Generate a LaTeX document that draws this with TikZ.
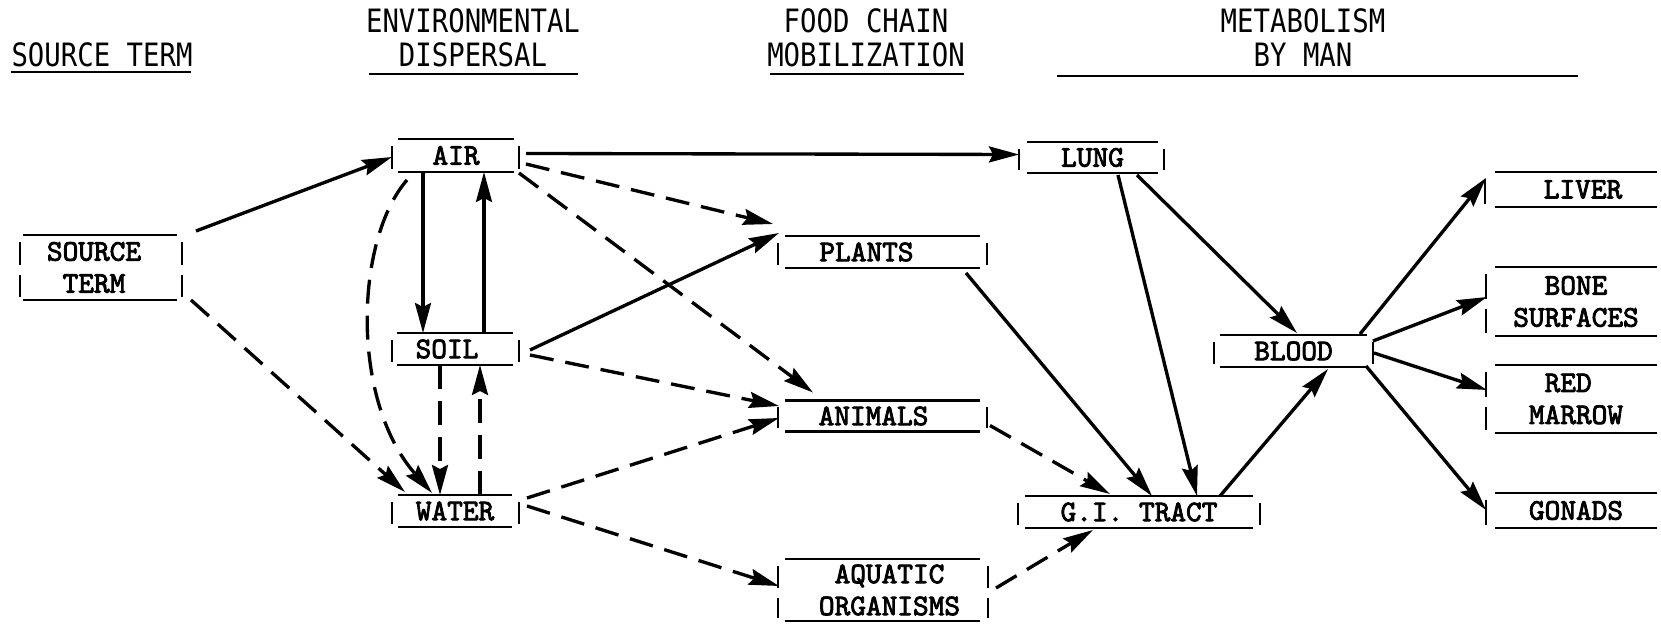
\documentclass[tikz,border=0pt]{standalone}
\usepackage{fontspec}
\usetikzlibrary{arrows.meta,calc}
\newfontfamily\hdrfont[FakeStretch=0.85]{DejaVu Sans Mono}
\newfontfamily\boxfont{lmmono10-regular}[Extension=.otf, FakeBold=2.8]
\newdimen\pxu \pxu=0.02cm
% horizontal rules above and below a box
\newcommand\boxedges[1]{\draw[boxrule] (#1.north west) -- (#1.north east) (#1.south west) -- (#1.south east);}
% single side ticks (one-line boxes)
\newcommand\boxtickL[2]{\draw[boxrule] ([shift={(#2,7)}]#1.north west) -- ([shift={(#2,-3)}]#1.south west);}
\newcommand\boxtickR[2]{\draw[boxrule] ([shift={(#2,7)}]#1.north east) -- ([shift={(#2,-3)}]#1.south east);}
% paired side ticks (two-line boxes)
\newcommand\boxticksL[2]{\draw[boxrule] ([shift={(#2,7)}]#1.north west) -- ([shift={(#2,-2)}]#1.west) ([shift={(#2,8)}]#1.west) -- ([shift={(#2,-3)}]#1.south west);}
\newcommand\boxticksR[2]{\draw[boxrule] ([shift={(#2,7)}]#1.north east) -- ([shift={(#2,-2)}]#1.east) ([shift={(#2,8)}]#1.east) -- ([shift={(#2,-3)}]#1.south east);}
\tikzset{
  boxnode/.style 2 args={inner sep=0pt, outer sep=0pt, minimum width=#1*\pxu, minimum height=#2*\pxu,
    font=\boxfont\fontsize{17pt}{18.2pt}\selectfont, align=center},
  boxrule/.style={line width=1.5pt},
  hdr/.style={inner sep=0pt, font=\hdrfont\fontsize{18.3pt}{19.35pt}\selectfont, align=center},
  hline/.style={line width=1.6pt},
  solidarrow/.style={line width=1.9pt, -{Stealth[length=0.6cm, width=0.32cm, inset=0.08cm]}},
  dasharrow/.style={solidarrow, dash pattern=on 0.48cm off 0.24cm},
}
\begin{document}
\begin{tikzpicture}[x=0.02cm, y=-0.02cm]
\fill[white] (0,0) rectangle (1661,624);
\useasboundingbox (0,0) rectangle (1661,624);

% column headings
\node[hdr] (hsource) at (102,55) {SOURCE TERM};
\node[hdr] (henv) at (473,38) {ENVIRONMENTAL\\DISPERSAL};
\node[hdr] (hfood) at (866,38) {FOOD CHAIN\\MOBILIZATION};
\node[hdr] (hmet) at (1303,38) {METABOLISM\\BY MAN};
\draw[hline] (11,72) -- (191,72);
\draw[hline] (369,74) -- (578,74);
\draw[hline] (770,74) -- (964,74);
\draw[hline] (1057,76) -- (1578,76);

% compartments
\node[boxnode={154}{65}] (source) at (100,267.5) {SOURCE\kern12\pxu\\TERM\kern12\pxu};
\node[boxnode={116}{33}] (air) at (456,155.5) {AIR};
\node[boxnode={116}{32}] (soil) at (455,349) {SOIL\kern16\pxu};
\node[boxnode={114}{32}] (water) at (455,511) {WATER};
\node[boxnode={195}{32}] (plants) at (882.5,252) {PLANTS\kern32\pxu};
\node[boxnode={195}{31}] (animals) at (882.5,416) {ANIMALS\kern18\pxu};
\node[boxnode={195}{62}] (aquatic) at (882.5,590) {\kern14\pxu AQUATIC\\\kern14\pxu ORGANISMS};
\node[boxnode={131}{31}] (lung) at (1092.5,157.5) {LUNG};
\node[boxnode={228}{32}] (gi) at (1139,512) {G.I.\ TRACT};
\node[boxnode={147}{32}] (blood) at (1293.5,351) {BLOOD};
\node[boxnode={162}{35}] (liver) at (1576,189.5) {\kern14\pxu LIVER};
\node[boxnode={162}{69}] (bone) at (1576,301.5) {BONE\\SURFACES};
\node[boxnode={162}{68}, align=left] (marrow) at (1576,399) {\hphantom{M}RED\\MARROW};
\node[boxnode={162}{35}] (gonads) at (1576,510.5) {GONADS};

\foreach \b in {source,air,soil,water,plants,animals,aquatic,lung,gi,blood,liver,bone,marrow,gonads}
  {\boxedges{\b}}
\boxticksL{source}{-3} \boxticksR{source}{5}
\boxtickL{air}{-6} \boxtickR{air}{5}
\boxtickL{soil}{-5} \boxtickR{soil}{6}
\boxtickL{water}{-6} \boxtickR{water}{7}
\boxtickL{plants}{-7} \boxtickR{plants}{7}
\boxtickL{animals}{-7} \boxtickR{animals}{7}
\boxticksL{aquatic}{-7} \boxticksR{aquatic}{8}
\boxtickL{lung}{-8} \boxtickR{lung}{6}
\boxtickL{gi}{-7} \boxtickR{gi}{7}
\boxtickL{blood}{-6} \boxtickR{blood}{6}
\boxtickL{liver}{-10}
\boxticksL{bone}{-9}
\boxticksL{marrow}{-9}
\boxtickL{gonads}{-9}

% transfer pathways
\draw[solidarrow] ([shift={(19,-4)}]source.north east) -- ([shift={(-6,1.5)}]air.west);
\draw[dasharrow] ([shift={(14,0)}]source.south east) -- ([shift={(7,-3)}]water.north west);
\draw[solidarrow] ([shift={(25,0)}]air.south west) -- ([shift={(26,0)}]soil.north west);
\draw[solidarrow] ([shift={(87,0)}]soil.north west) -- ([shift={(86,0)}]air.south west);
\draw[dasharrow] ([shift={(9,8)}]air.south west) .. controls +(-52,60) and +(-82,-93) .. ([shift={(34,-2)}]water.north west);
\draw[dasharrow] ([shift={(43,0)}]soil.south west) -- ([shift={(42,0)}]water.north west);
\draw[dasharrow] ([shift={(82,0)}]water.north west) -- ([shift={(83,0)}]soil.south west);
\draw[solidarrow] ([shift={(12,-2)}]air.east) -- ([shift={(-8,-3)}]lung.west);
\draw[dasharrow] ([shift={(12,-8)}]air.south east) -- ([shift={(-12,-12)}]plants.north west);
\draw[dasharrow] ([shift={(5,1)}]air.south east) -- ([shift={(28,-8)}]animals.north west);
\draw[solidarrow] ([shift={(17,1)}]soil.east) -- ([shift={(-6,-3)}]plants.north west);
\draw[dasharrow] ([shift={(17,6)}]soil.east) -- ([shift={(-6,-10)}]animals.west);
\draw[dasharrow] ([shift={(15,3)}]water.north east) -- ([shift={(-6,2)}]animals.west);
\draw[dasharrow] ([shift={(15,-5)}]water.east) -- ([shift={(-6,-4)}]aquatic.west);
\draw[solidarrow] ([shift={(-14,5)}]plants.south east) -- ([shift={(13,0)}]gi.north);
\draw[dasharrow] ([shift={(10,-6)}]animals.south east) -- ([shift={(-29,-2)}]gi.north);
\draw[dasharrow] ([shift={(16,-2)}]aquatic.east) -- ([shift={(68,2)}]gi.south west);
\draw[solidarrow] ([shift={(-40,2)}]lung.south east) -- ([shift={(58,0)}]gi.north);
\draw[solidarrow] ([shift={(-21,2)}]lung.south east) -- ([shift={(3.5,-2)}]blood.north);
\draw[solidarrow] ([shift={(-33,0)}]gi.north east) -- ([shift={(34.5,2)}]blood.south);
\draw[solidarrow] ([shift={(-7,-1)}]blood.north east) -- ([shift={(-9,-11.5)}]liver.west);
\draw[solidarrow] ([shift={(6,-10)}]blood.east) -- ([shift={(-8,-4.5)}]bone.west);
\draw[solidarrow] ([shift={(7,2)}]blood.east) -- ([shift={(-8,-9)}]marrow.west);
\draw[solidarrow] ([shift={(-1,-1)}]blood.south east) -- ([shift={(-9,-0.5)}]gonads.west);
\end{tikzpicture}
\end{document}
